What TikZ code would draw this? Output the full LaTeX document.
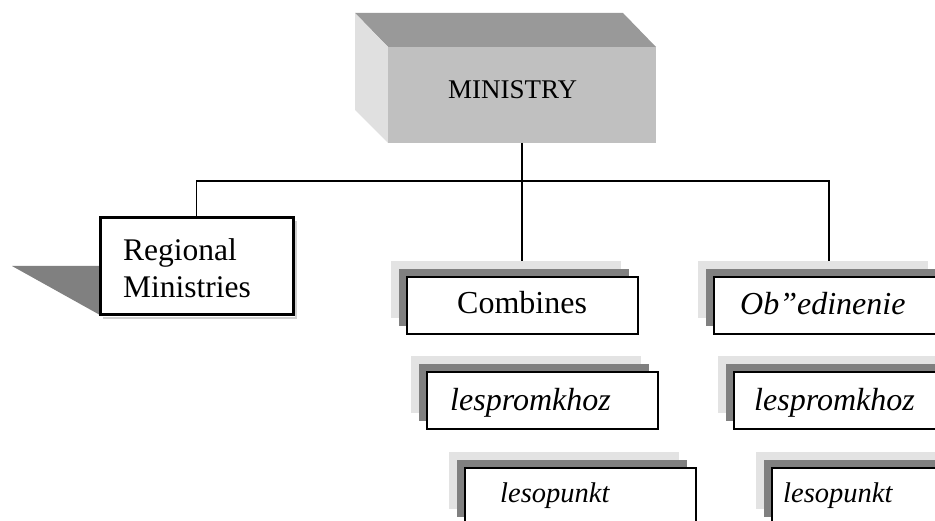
\documentclass[tikz,border=0pt]{standalone}
\usepackage{fontspec}
\setmainfont{Liberation Serif}
\definecolor{topface}{HTML}{999999}
\definecolor{frontface}{HTML}{C0C0C0}
\definecolor{leftface}{HTML}{E0E0E0}
\definecolor{lightshadow}{HTML}{E3E3E3}
\definecolor{darkshadow}{HTML}{808080}
\begin{document}
\begin{tikzpicture}[x=1pt,y=-1pt,
  conn/.style={line width=1.5pt, black},
  frontbox/.style={anchor=north west, fill=frontface, minimum width=268pt, minimum height=96pt, inner sep=0pt, outer sep=0pt},
  regbox/.style={anchor=north west, draw=black, fill=white, line width=3pt, minimum width=193pt, minimum height=97pt, inner sep=0pt, outer sep=0pt},
  lightsh/.style={anchor=north west, fill=lightshadow, minimum width=230pt, minimum height=57pt, inner sep=0pt, outer sep=0pt},
  darksh/.style={anchor=north west, fill=darkshadow, minimum width=230pt, minimum height=57pt, inner sep=0pt, outer sep=0pt},
  whitebox/.style={anchor=north west, draw=black, fill=white, line width=1.6pt, minimum width=231pt, minimum height=57pt, inner sep=0pt, outer sep=0pt},
  bigtxt/.style={anchor=base west, inner sep=0pt, font=\fontsize{32}{38}\selectfont},
  bigital/.style={anchor=base west, inner sep=0pt, font=\fontsize{32}{38}\selectfont\itshape},
  smallital/.style={anchor=base west, inner sep=0pt, font=\fontsize{28.5}{34}\selectfont\itshape}
]
\useasboundingbox (0,0) rectangle (935,521);
\clip (0,0) rectangle (935,521);

% MINISTRY 3D box
\fill[topface] (355,13) -- (623,13) -- (656,47) -- (388,47) -- cycle;
\fill[leftface] (355,13) -- (388,47) -- (388,143) -- (355,110) -- cycle;
\node[frontbox] (min) at (388,47) {};
\node[anchor=base west, inner sep=0pt, font=\fontsize{27}{32}\selectfont] (mintxt) at (448,99) {MINISTRY};

% Regional Ministries
\fill[darkshadow] (12,266) -- (100,266) -- (100,315) -- cycle;
\draw[lightshadow!80!gray, line width=1.5pt] (296,221) -- (296,318) -- (103,318);
\node[regbox] (reg) at (100,218) {};
\node[anchor=north west, inner sep=0pt, align=left, font=\fontsize{31.5}{37}\selectfont] (regtxt) at (123,238) {Regional\\Ministries};

% Combines column
\node[lightsh] (c1l) at (391,261) {};
\node[darksh] (c1d) at (399,269) {};
\node[whitebox] (c1) at (407,277) {};
\node[bigtxt] (c1t) at (457,314) {Combines};

\node[lightsh] (c2l) at (411,356) {};
\node[darksh] (c2d) at (419,364) {};
\node[whitebox] (c2) at (427,372) {};
\node[bigital] (c2t) at (450,410) {lespromkhoz};

\node[lightsh] (c3l) at (449,452) {};
\node[darksh] (c3d) at (457,460) {};
\node[whitebox] (c3) at (465,468) {};
\node[smallital] (c3t) at (500,502) {lesopunkt};

% Ob"edinenie column
\node[lightsh] (o1l) at (698,261) {};
\node[darksh] (o1d) at (706,269) {};
\node[whitebox] (o1) at (714,277) {};
\node[bigital] (o1t) at (740,315) {Ob”edinenie};

\node[lightsh] (o2l) at (718,356) {};
\node[darksh] (o2d) at (726,364) {};
\node[whitebox] (o2) at (734,372) {};
\node[bigital] (o2t) at (754,410) {lespromkhoz};

\node[lightsh] (o3l) at (756,452) {};
\node[darksh] (o3d) at (764,460) {};
\node[whitebox] (o3) at (772,468) {};
\node[smallital] (o3t) at (783,502) {lesopunkt};

% connectors
\coordinate (busR) at (829,181);
\draw[conn] (min.south) -- (min.south |- c1l.north);
\draw[conn] (reg.north) |- (busR) -- (busR |- o1l.north);
\end{tikzpicture}
\end{document}
